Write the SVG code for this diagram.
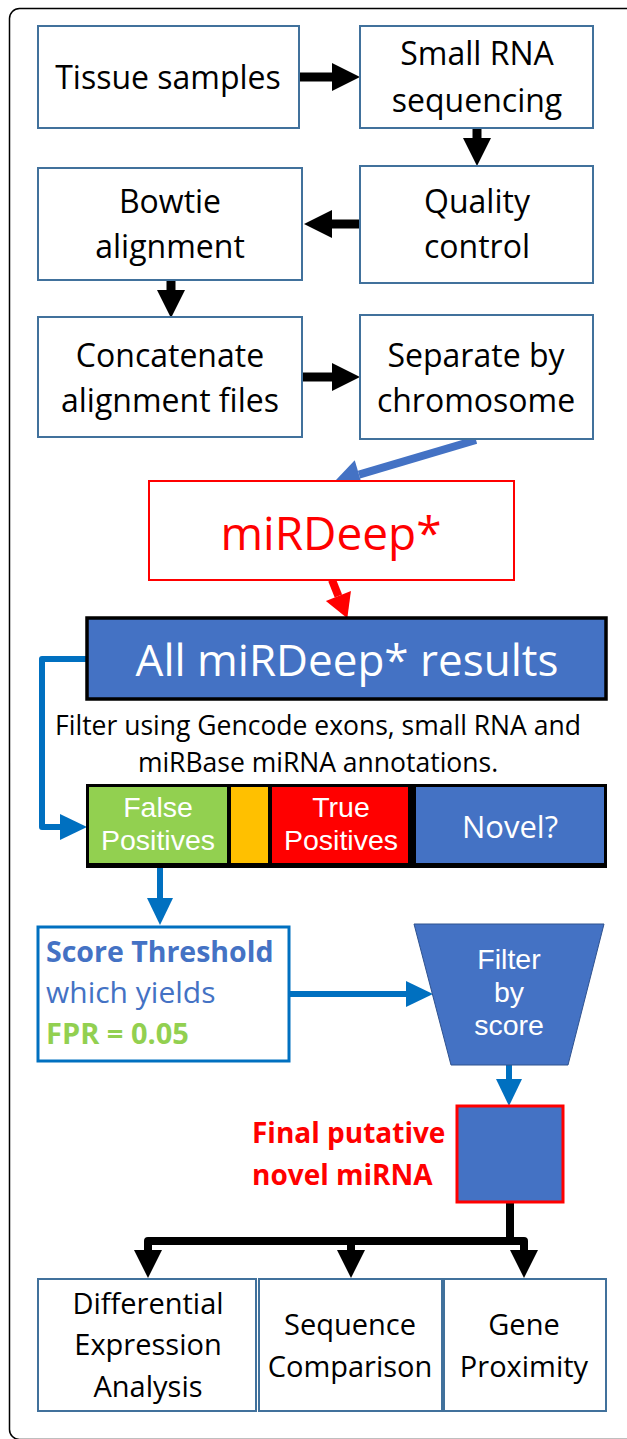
<svg xmlns="http://www.w3.org/2000/svg" width="627" height="1439" viewBox="0 0 627 1439">
  <defs>
    <style>
      text { font-family: "Open Sans", "Noto Sans", sans-serif; }
      .box { fill: #ffffff; stroke: #41719C; stroke-width: 2; }
      .t32 { font-size: 32px; fill: #000000; text-anchor: middle; }
      .t29 { font-size: 29px; fill: #000000; text-anchor: middle; }
      .wt { fill: #ffffff; text-anchor: middle; }
      .tight { font-family: "Liberation Sans", Arial, sans-serif; }
      .blk { fill: none; stroke: #000000; stroke-width: 9; }
      .blu { fill: none; stroke: #0070C0; stroke-width: 6; }
    </style>
    <marker id="ahBlack" markerUnits="userSpaceOnUse" markerWidth="28" markerHeight="28" refX="0" refY="14" orient="auto" overflow="visible">
      <path d="M0,0 L28,14 L0,28 Z" fill="#000000"/>
    </marker>
    <marker id="ahBlue" markerUnits="userSpaceOnUse" markerWidth="27" markerHeight="26" refX="0" refY="13" orient="auto" overflow="visible">
      <path d="M0,0 L27,13 L0,26 Z" fill="#0070C0"/>
    </marker>
    <marker id="ahLightBlue" markerUnits="userSpaceOnUse" markerWidth="26" markerHeight="30" refX="0" refY="15" orient="auto" overflow="visible">
      <path d="M0,0 L26,15 L0,30 Z" fill="#4472C4"/>
    </marker>
    <marker id="ahRed" markerUnits="userSpaceOnUse" markerWidth="24" markerHeight="27" refX="0" refY="13.5" orient="auto" overflow="visible">
      <path d="M0,0 L24,13.5 L0,27 Z" fill="#FF0000"/>
    </marker>
  </defs>

  <!-- panel frame -->
  <rect x="9.5" y="8.5" width="640" height="1431" rx="10" fill="#ffffff" stroke="#000000" stroke-width="1.5"/>

  <!-- connectors -->
  <g id="connectors">
    <path class="blk" d="M299,77 H332" marker-end="url(#ahBlack)"/>
    <path class="blk" d="M477,128 V138" marker-end="url(#ahBlack)"/>
    <path class="blk" d="M360,224 H332" marker-end="url(#ahBlack)"/>
    <path class="blk" d="M171,280 V290" marker-end="url(#ahBlack)"/>
    <path class="blk" d="M302,377 H332" marker-end="url(#ahBlack)"/>
    <path d="M476,440 L359,474.6" fill="none" stroke="#4472C4" stroke-width="8" marker-end="url(#ahLightBlue)"/>
    <path d="M332,580 L338.4,596" fill="none" stroke="#FF0000" stroke-width="8" marker-end="url(#ahRed)"/>
    <path class="blu" d="M87,659 H42 V827 H60" stroke-linejoin="round" marker-end="url(#ahBlue)"/>
    <path class="blu" d="M160,867 V898" marker-end="url(#ahBlue)"/>
    <path class="blu" d="M289,994 H406" marker-end="url(#ahBlue)"/>
    <path class="blu" d="M509,1065 V1079" marker-end="url(#ahBlue)"/>
    <path d="M510,1202 V1241" fill="none" stroke="#000000" stroke-width="8"/>
    <path d="M148,1250 V1241 H524 V1250" fill="none" stroke="#000000" stroke-width="8" stroke-linejoin="round"/>
    <path d="M148,1241 V1250" fill="none" stroke="#000000" stroke-width="8" marker-end="url(#ahBlack)"/>
    <path d="M351,1241 V1250" fill="none" stroke="#000000" stroke-width="8" marker-end="url(#ahBlack)"/>
    <path d="M524,1241 V1250" fill="none" stroke="#000000" stroke-width="8" marker-end="url(#ahBlack)"/>
  </g>

  <g id="tissue">
    <rect class="box" x="38" y="26" width="261" height="102"/>
    <text class="t32" x="168" y="89">Tissue samples</text>
  </g>
  <g id="sequencing">
    <rect class="box" x="360" y="26" width="233" height="102"/>
    <text class="t32" x="477" y="65">Small RNA</text>
    <text class="t32" x="477" y="112">sequencing</text>
  </g>
  <g id="bowtie">
    <rect class="box" x="38" y="168" width="264" height="112"/>
    <text class="t32" x="170" y="213">Bowtie</text>
    <text class="t32" x="170" y="258">alignment</text>
  </g>
  <g id="quality">
    <rect class="box" x="360" y="166" width="233" height="117"/>
    <text class="t32" x="477" y="213">Quality</text>
    <text class="t32" x="477" y="258">control</text>
  </g>
  <g id="concatenate">
    <rect class="box" x="38" y="317" width="264" height="120"/>
    <text class="t32" x="170" y="367">Concatenate</text>
    <text class="t32" x="170" y="412">alignment files</text>
  </g>
  <g id="separate">
    <rect class="box" x="360" y="315" width="233" height="124"/>
    <text class="t32" x="476" y="367">Separate by</text>
    <text class="t32" x="476" y="412">chromosome</text>
  </g>
  <g id="mirdeep">
    <rect x="149" y="481" width="365" height="99" fill="#ffffff" stroke="#FF0000" stroke-width="2"/>
    <text x="331" y="550" font-size="46" fill="#FF0000" text-anchor="middle">miRDeep*</text>
  </g>
  <g id="all-results">
    <rect x="87" y="618" width="519" height="81" fill="#4472C4" stroke="#000000" stroke-width="3.5"/>
    <text class="wt" x="347" y="676" font-size="44">All miRDeep* results</text>
  </g>
  <g id="filter-note">
    <text x="318" y="735" font-size="26.5" text-anchor="middle" fill="#000000">Filter using Gencode exons, small RNA and</text>
    <text x="318" y="772" font-size="26.5" text-anchor="middle" fill="#000000">miRBase miRNA annotations.</text>
  </g>
  <g id="categories">
    <rect x="86" y="784" width="521" height="84" fill="#000000"/>
    <g id="false-positives">
      <rect x="89" y="787" width="138" height="76" fill="#92D050"/>
      <text class="wt tight" x="158" y="817" font-size="28.5">False</text>
      <text class="wt tight" x="158" y="850" font-size="28.5">Positives</text>
    </g>
    <g id="ambiguous">
      <rect x="231" y="787" width="37" height="76" fill="#FFC000"/>
    </g>
    <g id="true-positives">
      <rect x="272" y="787" width="136" height="76" fill="#FF0000"/>
      <text class="wt tight" x="341" y="817" font-size="28.5">True</text>
      <text class="wt tight" x="341" y="850" font-size="28.5">Positives</text>
    </g>
    <g id="novel">
      <rect x="416" y="787" width="188" height="76" fill="#4472C4"/>
      <text class="wt" x="510" y="838" font-size="31">Novel?</text>
    </g>
  </g>
  <g id="score-threshold">
    <rect x="38" y="927" width="251" height="134" fill="#ffffff" stroke="#0070C0" stroke-width="3"/>
    <text x="46" y="962" font-size="28.5" font-weight="bold" fill="#4472C4">Score Threshold</text>
    <text x="46" y="1003" font-size="30" fill="#4472C4">which yields</text>
    <text x="46" y="1044" font-size="29" font-weight="bold" fill="#92D050">FPR = 0.05</text>
  </g>
  <g id="filter-by-score">
    <polygon points="414,924 604,924 568,1065 451,1065" fill="#4472C4" stroke="#2F528F" stroke-width="1"/>
    <text class="wt tight" x="509" y="969" font-size="28.5">Filter</text>
    <text class="wt tight" x="509" y="1002" font-size="28.5">by</text>
    <text class="wt tight" x="509" y="1035" font-size="28.5">score</text>
  </g>
  <g id="final-mirna">
    <rect x="457" y="1106" width="106" height="96" fill="#4472C4" stroke="#FF0000" stroke-width="3"/>
    <text x="252" y="1143" font-size="28" font-weight="bold" fill="#FF0000">Final putative</text>
    <text x="252" y="1185" font-size="28" font-weight="bold" fill="#FF0000">novel miRNA</text>
  </g>
  <g id="differential">
    <rect class="box" x="38" y="1279" width="218" height="132"/>
    <text class="t29" x="148" y="1314">Differential</text>
    <text class="t29" x="148" y="1355">Expression</text>
    <text class="t29" x="148" y="1397">Analysis</text>
  </g>
  <g id="sequence">
    <rect class="box" x="259" y="1279" width="183" height="132"/>
    <text class="t29" x="350" y="1335">Sequence</text>
    <text class="t29" x="350" y="1377">Comparison</text>
  </g>
  <g id="proximity">
    <rect class="box" x="444" y="1279" width="162" height="132"/>
    <text class="t29" x="524" y="1335">Gene</text>
    <text class="t29" x="524" y="1377">Proximity</text>
  </g>
</svg>
